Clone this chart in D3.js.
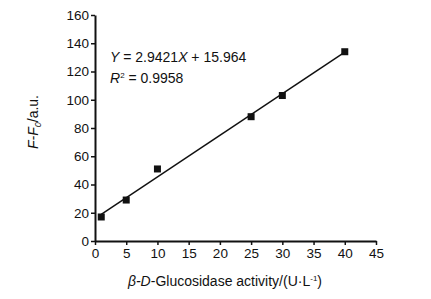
<!DOCTYPE html>
<html>
<head>
<meta charset="utf-8">
<script src="https://cdn.jsdelivr.net/npm/d3@7"></script>
<style>
  body { margin: 0; background: #fff; }
  text { font-family: "Liberation Sans", Arial, sans-serif; fill: #111; }
</style>
</head>
<body>
<div id="chart"></div>
<script>
const activity = [1, 5, 10, 25, 30, 40];
const signal = [17, 29, 51, 88, 103, 134];
const slope = 2.9421, intercept = 15.964;
const xTicks = [0, 5, 10, 15, 20, 25, 30, 35, 40, 45];
const yTicks = [0, 20, 40, 60, 80, 100, 120, 140, 160];

const W = 431, H = 299;
const margin = { top: 15, right: 55, bottom: 58, left: 95 },
    width = W - margin.left - margin.right,
    height = H - margin.top - margin.bottom;

const svg = d3.select("#chart").append("svg")
    .attr("width", W).attr("height", H);
const g = svg.append("g").attr("transform", `translate(${margin.left},${margin.top})`);

const x = d3.scaleLinear().domain([0, 45]).range([0, width]);
const y = d3.scaleLinear().domain([0, 160]).range([height, 0]);

const xAxis = g.append("g")
    .attr("transform", `translate(0,${height})`)
    .call(d3.axisBottom(x).tickValues(xTicks).tickSize(4).tickPadding(3).tickSizeOuter(0));
const yAxis = g.append("g")
    .call(d3.axisLeft(y).tickValues(yTicks).tickSize(4).tickPadding(2).tickSizeOuter(0));

[xAxis, yAxis].forEach(a => {
    a.select(".domain").attr("stroke", "#111").attr("stroke-width", 2);
    a.selectAll(".tick line").attr("stroke", "#111").attr("stroke-width", 1.5);
    a.selectAll(".tick text").attr("font-size", 13.5).attr("fill", "#111")
        .attr("font-family", "Liberation Sans, Arial, sans-serif");
});

// fitted line
const fit = d3.line().x(d => x(d)).y(d => y(slope * d + intercept));
g.append("path")
    .datum([activity[0], activity[activity.length - 1]])
    .attr("d", fit)
    .attr("fill", "none")
    .attr("stroke", "#111")
    .attr("stroke-width", 1.5);

// points
g.selectAll(".pt")
    .data(activity.map((d, i) => [d, signal[i]]))
    .enter().append("rect")
    .attr("x", d => x(d[0]) - 3.5)
    .attr("y", d => y(d[1]) - 3.5)
    .attr("width", 7).attr("height", 7)
    .attr("fill", "#111");

// equation
const eq = svg.append("text").attr("x", 110).attr("y", 62).attr("font-size", 14);
eq.append("tspan").attr("font-style", "italic").text("Y");
eq.append("tspan").text(" = 2.9421");
eq.append("tspan").attr("font-style", "italic").text("X");
eq.append("tspan").text(" + 15.964");

const r2 = svg.append("text").attr("x", 110).attr("y", 83).attr("font-size", 14);
r2.append("tspan").attr("font-style", "italic").text("R");
r2.append("tspan").attr("font-size", 8).attr("dy", -5).text("2");
r2.append("tspan").attr("dy", 5).text(" = 0.9958");

// x label
const xl = svg.append("text").attr("x", 225).attr("y", 286)
    .attr("text-anchor", "middle").attr("font-size", 14);
xl.append("tspan").attr("font-style", "italic").text("β-D");
xl.append("tspan").text("-Glucosidase activity/(U·L");
xl.append("tspan").attr("font-size", 8).attr("dy", -5).text("-1");
xl.append("tspan").attr("dy", 5).text(")");

// y label
const yl = svg.append("text")
    .attr("transform", `translate(38,122) rotate(-90)`)
    .attr("text-anchor", "middle").attr("font-size", 14);
yl.append("tspan").attr("font-style", "italic").text("F-F");
yl.append("tspan").attr("font-style", "italic").attr("font-size", 9).attr("dy", 3).text("0");
yl.append("tspan").attr("dy", -3).text("/a.u.");
</script>
</body>
</html>
